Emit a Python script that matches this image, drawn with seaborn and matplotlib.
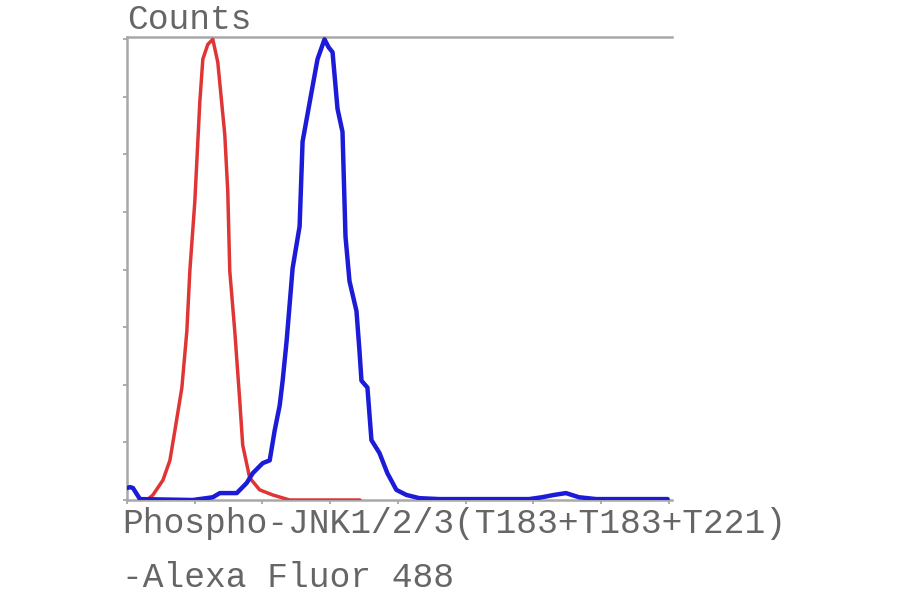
import matplotlib
matplotlib.use("Agg")
import matplotlib.pyplot as plt
import seaborn as sns
import pandas as pd
import numpy as np

# fluorescence channel (0-1000) and counts (% of max)
control_x = [23.9, 36.8, 47.9, 66.3, 79.2, 88.4, 101.3, 110.5, 116.0, 125.2,
             134.4, 140.0, 149.2, 158.4, 167.6, 180.5, 186.0, 189.7, 198.9,
             208.1, 213.6, 226.5, 244.9, 268.9, 300.2, 430.0]
control_y = [0.0, 0.0, 1.1, 4.3, 8.6, 15.1, 24.4, 36.7, 49.7, 64.8,
             86.4, 95.7, 98.9, 100.0, 95.0, 79.3, 67.0, 49.7, 36.7,
             21.6, 11.9, 4.8, 2.2, 1.1, 0.0, 0.0]

sample_x = [0.0, 5.5, 11.0, 23.9, 121.5, 158.4, 171.3, 202.6, 221.0, 232.0,
            250.5, 263.4, 272.6, 281.8, 287.3, 294.7, 305.7, 318.6, 324.1,
            340.7, 351.7, 364.6, 372.0, 379.4, 388.6, 397.8, 403.3, 410.7,
            423.6, 429.1, 432.8, 443.8, 451.2, 466.0, 480.7, 497.2, 515.7,
            539.6, 576.4, 742.2, 766.1, 788.2, 810.3, 834.3, 865.6, 998.0]
sample_y = [2.6, 2.8, 2.6, 0.2, 0.0, 0.6, 1.5, 1.5, 3.7, 5.8,
            8.0, 8.6, 15.1, 20.5, 25.9, 34.6, 50.3, 59.4, 77.8,
            88.6, 95.7, 100.0, 98.3, 97.2, 84.9, 79.9, 57.2, 47.5,
            41.0, 32.4, 25.9, 24.4, 13.0, 10.2, 5.8, 2.2, 1.1,
            0.4, 0.2, 0.2, 0.6, 1.1, 1.5, 0.6, 0.2, 0.2]

xlabel_lines = ["Phospho-JNK1/2/3(T183+T183+T221)", "-Alexa Fluor 488"]
ylabel_text = "Counts"

control_df = pd.DataFrame({"x": control_x, "y": control_y})
sample_df = pd.DataFrame({"x": sample_x, "y": sample_y})

sns.set_style("white")
plt.rcParams["font.family"] = ["Liberation Mono", "DejaVu Sans Mono"]

fig = plt.figure(figsize=(9, 5.94), dpi=100)
ax = fig.add_axes([127 / 900, 1 - 500 / 594, 545 / 900, 463 / 594])

sns.lineplot(data=control_df, x="x", y="y", ax=ax, color="#e03535",
             linewidth=2.5, estimator=None, sort=False, zorder=3)
sns.lineplot(data=sample_df, x="x", y="y", ax=ax, color="#1c1cd8",
             linewidth=3.2, estimator=None, sort=False, zorder=4)

ax.set_xlim(0, 1006)
ax.set_ylim(0, 100.5)
ax.set_xticks(np.linspace(0, 1000, 9))
ax.set_yticks(np.linspace(0, 100, 9))
ax.set_xticklabels([])
ax.set_yticklabels([])
ax.tick_params(axis="both", direction="out", length=3, width=1.2,
               color="#a0a0a0", bottom=True, left=True)
ax.set_xlabel("")
ax.set_ylabel("")

for side in ["top", "left", "bottom"]:
    ax.spines[side].set_color("#a8a8a8")
    ax.spines[side].set_linewidth(1.8)
ax.spines["right"].set_visible(False)

txt_color = "#666666"
fig.text(127 / 900, 1 - 29 / 594, ylabel_text, fontsize=24.9,
         color=txt_color, ha="left", va="baseline")
fig.text(122 / 900, 1 - 533 / 594, xlabel_lines[0], fontsize=24.9,
         color=txt_color, ha="left", va="baseline")
fig.text(122 / 900, 1 - 587 / 594, xlabel_lines[1], fontsize=24.9,
         color=txt_color, ha="left", va="baseline")

fig.savefig("out.png", dpi=100)
